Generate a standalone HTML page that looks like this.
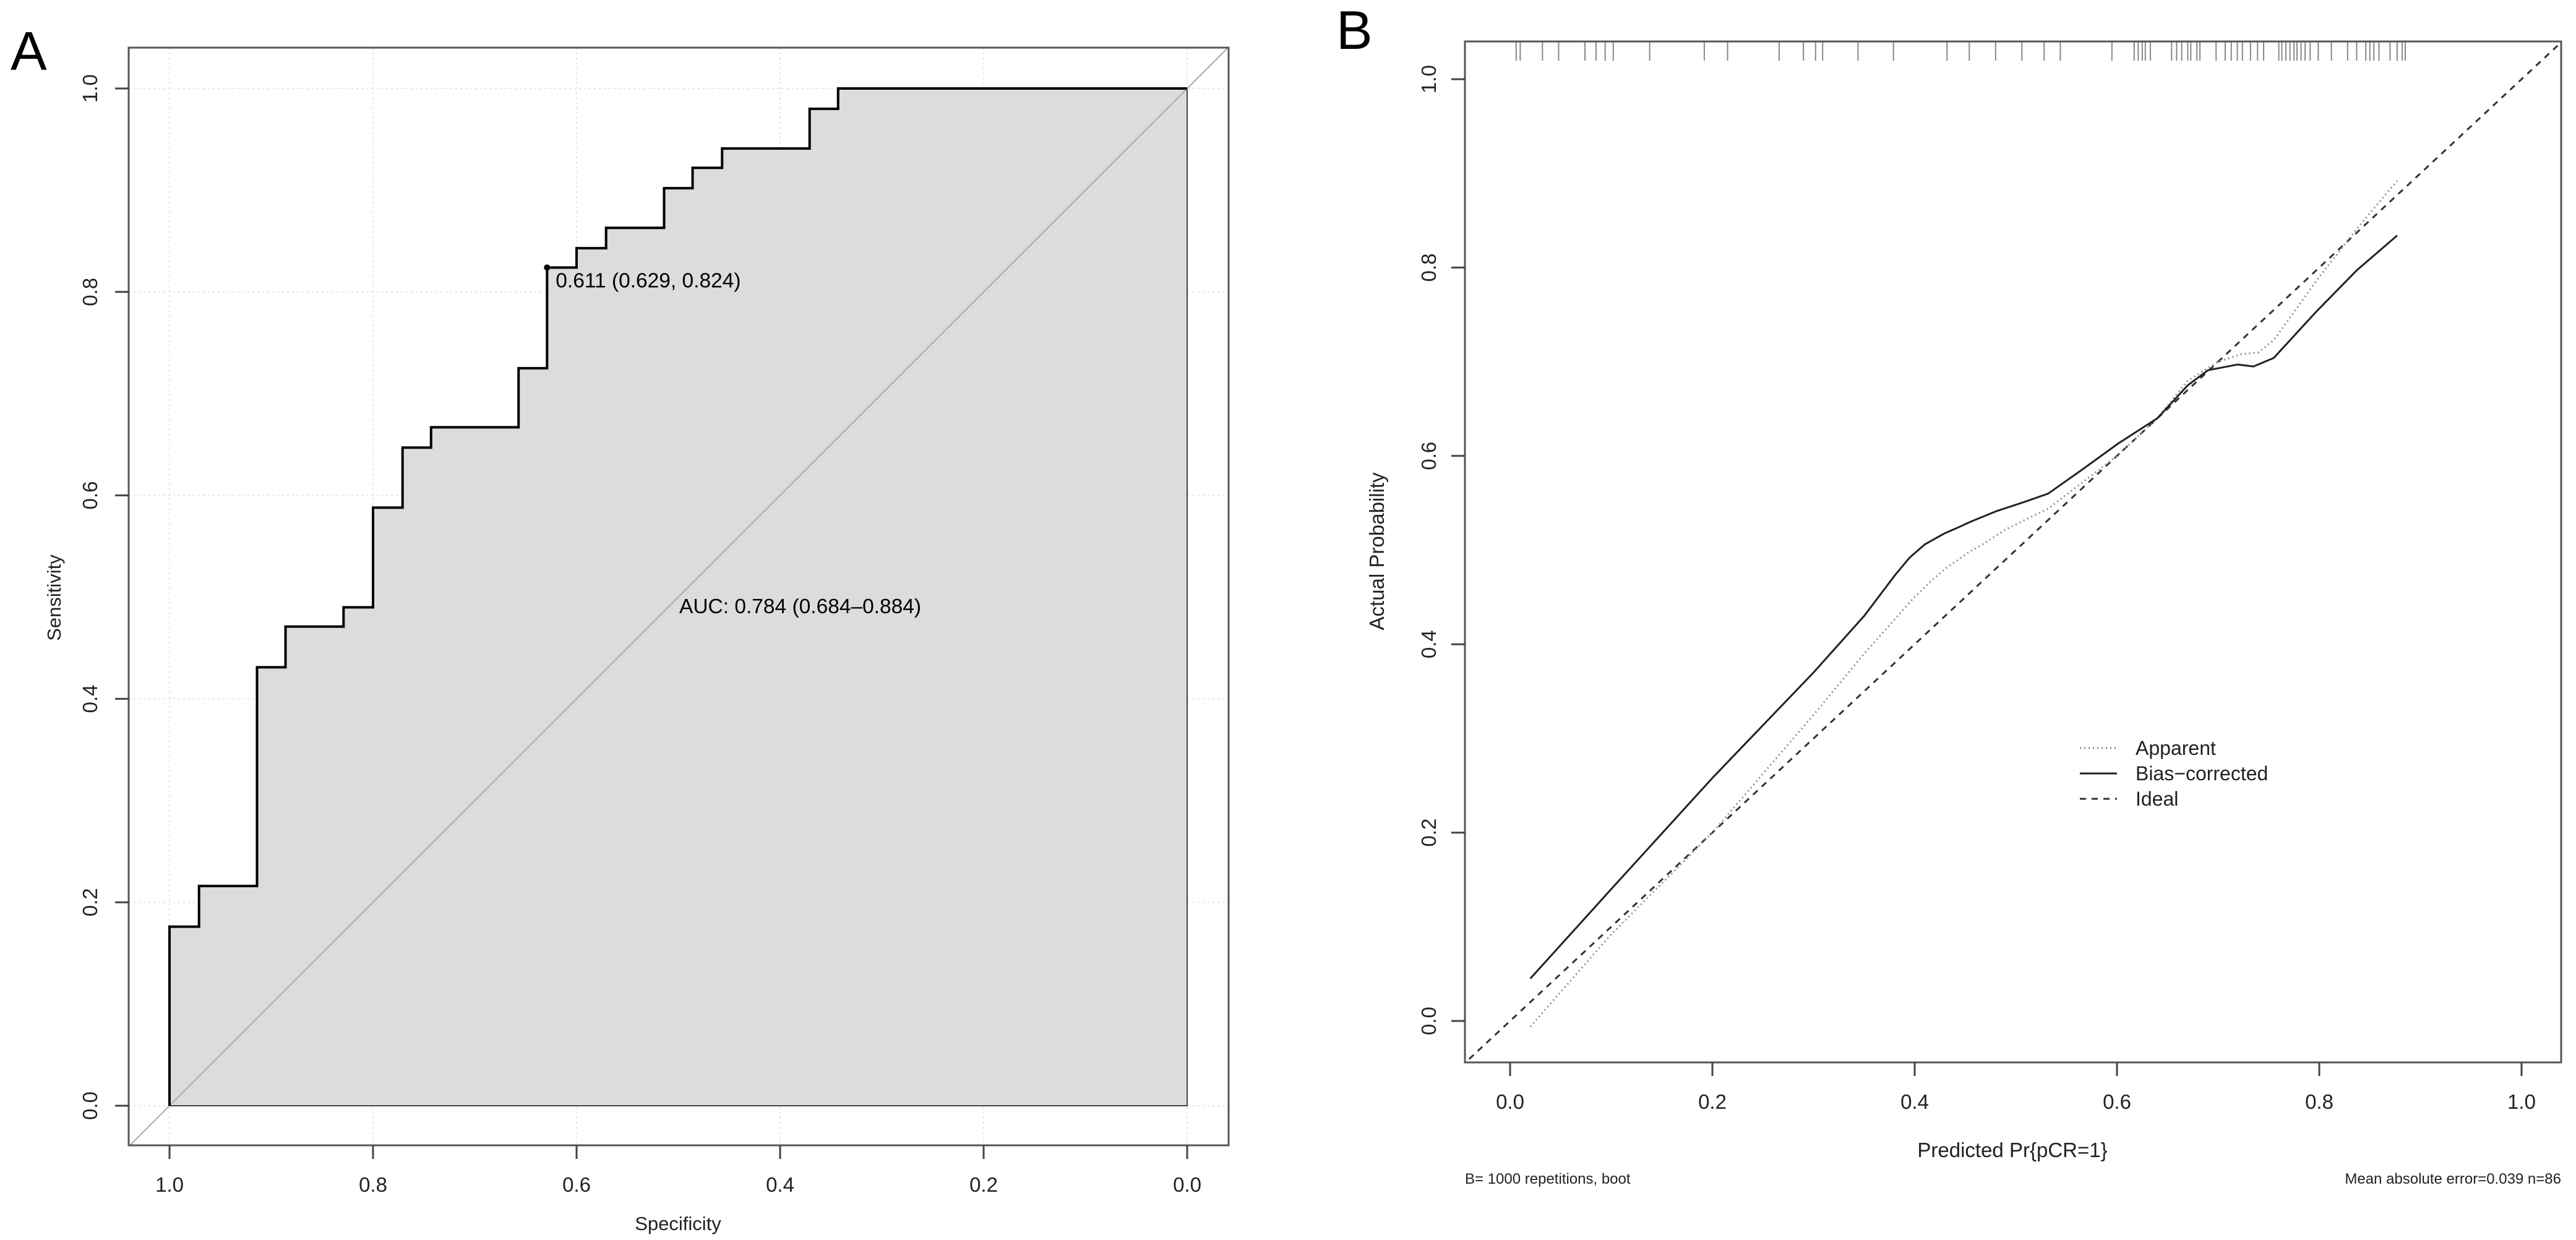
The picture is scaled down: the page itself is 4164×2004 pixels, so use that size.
<!DOCTYPE html>
<html><head><meta charset="utf-8"><style>
html,body{margin:0;padding:0;background:#fff;}
svg{display:block;font-family:"Liberation Sans",Arial,sans-serif;}
</style></head><body>
<svg id="fig" width="4164" height="2004" viewBox="0 0 4164 2004" xmlns="http://www.w3.org/2000/svg">
<defs>
<clipPath id="clipA"><rect x="208" y="77" width="1778" height="1774"/></clipPath>
<clipPath id="clipB"><rect x="2368" y="67" width="1772" height="1650"/></clipPath>
</defs>
<g id="panelA"></g>
<g id="panelB"></g>
</svg>
<script>
// ---- Panel A data (ROC) ----
const rocSpec = [1,1,0.971,0.971,0.914,0.914,0.886,0.886,0.829,0.829,0.8,0.8,0.771,0.771,0.743,0.743,0.657,0.657,0.629,0.629,0.6,0.6,0.571,0.571,0.514,0.514,0.486,0.486,0.457,0.457,0.371,0.371,0.343,0.343,0];
const rocSens = [0,0.176,0.176,0.216,0.216,0.431,0.431,0.471,0.471,0.490,0.490,0.588,0.588,0.647,0.647,0.667,0.667,0.725,0.725,0.824,0.824,0.843,0.843,0.863,0.863,0.902,0.902,0.922,0.922,0.941,0.941,0.980,0.980,1,1];
const rocTicks = [0,0.2,0.4,0.6,0.8,1.0];
const rocTickLabels = ["0.0","0.2","0.4","0.6","0.8","1.0"];
const bestSpec = 0.629, bestSens = 0.824;
const bestLabel = "0.611 (0.629, 0.824)";
const aucLabel = "AUC: 0.784 (0.684\u20130.884)";

// ---- Panel B data (calibration) ----
const calTicks = [0,0.2,0.4,0.6,0.8,1.0];
const calTickLabels = ["0.0","0.2","0.4","0.6","0.8","1.0"];
const biasX = [0.02,0.1,0.2,0.3,0.35,0.381,0.395,0.41,0.43,0.445,0.455,0.48,0.511,0.532,0.565,0.601,0.64,0.67,0.69,0.719,0.735,0.755,0.796,0.837,0.877];
const biasY = [0.045,0.14,0.258,0.37,0.43,0.474,0.492,0.506,0.518,0.525,0.53,0.541,0.552,0.56,0.585,0.613,0.64,0.675,0.691,0.697,0.695,0.704,0.752,0.797,0.834];
const appX = [0.02,0.1,0.2,0.3,0.35,0.398,0.415,0.43,0.454,0.47,0.49,0.532,0.6,0.64,0.67,0.7,0.723,0.74,0.755,0.8,0.84,0.877];
const appY = [-0.006,0.092,0.2,0.325,0.39,0.448,0.466,0.48,0.498,0.508,0.522,0.544,0.6,0.64,0.68,0.70,0.708,0.71,0.723,0.79,0.845,0.892];
const rugX = [.006,.010,.032,.048,.074,.085,.094,.102,.138,.192,.215,.266,.290,.302,.309,.344,.379,.432,.454,.480,.506,.528,.544,.595,.617,.621,.625,.628,.633,.654,.659,.664,.670,.673,.679,.682,.698,.707,.713,.719,.724,.732,.739,.745,.760,.763,.767,.771,.775,.778,.782,.786,.791,.799,.812,.828,.837,.846,.850,.854,.859,.870,.877,.882,.885];

const NS="http://www.w3.org/2000/svg";
function mk(parent,tag,attrs,text){const e=document.createElementNS(NS,tag);for(const k in attrs)e.setAttribute(k,attrs[k]);if(text!==undefined)e.textContent=text;parent.appendChild(e);return e;}

// ===== Panel A =====
const A=document.getElementById('panelA');
const ax=v=>1919-v*1645, ay=v=>1787-v*1644;
let t=mk(A,'text',{x:17,y:113,'font-size':88});


t.textContent='A';
rocTicks.forEach(v=>{
  let g=mk(A,'line',{x1:ax(v),x2:ax(v),y1:77,y2:1851,stroke:'#e4e4e4','stroke-width':2,'stroke-dasharray':'3 5'});
  
  
  let h=mk(A,'line',{x1:208,x2:1986,y1:ay(v),y2:ay(v),stroke:'#e4e4e4','stroke-width':2,'stroke-dasharray':'3 5'});
  
  
});
let pts=rocSpec.map((s,i)=>ax(s)+','+ay(rocSens[i])).join(' ')+' '+ax(0)+','+ay(0);
let poly=mk(A,'polygon',{points:pts,fill:'#dcdcdc',stroke:'#444','stroke-width':2});


let dg=mk(A,'line',{x1:ax(1.04),y1:ay(-0.04),x2:ax(-0.04),y2:ay(1.04),stroke:'#aaa','stroke-width':2,'clip-path':'url(#clipA)'});


let rc=mk(A,'polyline',{points:rocSpec.map((s,i)=>ax(s)+','+ay(rocSens[i])).join(' '),fill:'none',stroke:'#000','stroke-width':4});


let bp=mk(A,'circle',{cx:ax(bestSpec),cy:ay(bestSens),r:5,fill:'#000'});


let bl=mk(A,'text',{x:ax(bestSpec)+14,y:ay(bestSens)+32,'font-size':33.5},bestLabel);


let al=mk(A,'text',{x:1098,y:991,'font-size':33.5},aucLabel);


let bx=mk(A,'rect',{x:208,y:77,width:1778,height:1774,fill:'none',stroke:'#555','stroke-width':3});


rocTicks.forEach((v,i)=>{
  let tk=mk(A,'line',{x1:ax(v),x2:ax(v),y1:1851,y2:1873,stroke:'#444','stroke-width':3});
  
  
  let tl=mk(A,'text',{x:ax(v),y:1926,'font-size':33,'text-anchor':'middle',fill:'#222'},rocTickLabels[i]);
  
  
  let yk=mk(A,'line',{x1:186,x2:208,y1:ay(v),y2:ay(v),stroke:'#444','stroke-width':3});
  
  
  let yl=mk(A,'text',{x:0,y:0,'font-size':33,'text-anchor':'middle',fill:'#222',transform:'translate(157,'+ay(v)+') rotate(-90)'},rocTickLabels[i]);
  
  
});
let xt=mk(A,'text',{x:1096,y:1988,'font-size':31,'text-anchor':'middle',fill:'#222'},'Specificity');


let yt=mk(A,'text',{x:0,y:0,'font-size':31,'text-anchor':'middle',fill:'#222',transform:'translate(98,966) rotate(-90)'},'Sensitivity');



// ===== Panel B =====
const B=document.getElementById('panelB');
const bxs=v=>2441+v*1635, bys=v=>1650-v*1522;
let tb=mk(B,'text',{x:2160,y:79,'font-size':88});


tb.textContent='B';
let il=mk(B,'line',{x1:bxs(-0.1),y1:bys(-0.1),x2:bxs(1.2),y2:bys(1.2),stroke:'#333','stroke-width':3,'stroke-dasharray':'10 9','clip-path':'url(#clipB)'});


let ap=mk(B,'polyline',{points:appX.map((x,i)=>bxs(x)+','+bys(appY[i])).join(' '),fill:'none',stroke:'#888','stroke-width':3,'stroke-dasharray':'2 5'});


let bc=mk(B,'polyline',{points:biasX.map((x,i)=>bxs(x)+','+bys(biasY[i])).join(' '),fill:'none',stroke:'#222','stroke-width':3,'stroke-linejoin':'round'});


rugX.forEach(v=>{
  let r=mk(B,'line',{x1:bxs(v),x2:bxs(v),y1:67,y2:98,stroke:'#888','stroke-width':2});
  
  
});
let fb=mk(B,'rect',{x:2368,y:67,width:1772,height:1650,fill:'none',stroke:'#555','stroke-width':3});


calTicks.forEach((v,i)=>{
  let tk=mk(B,'line',{x1:bxs(v),x2:bxs(v),y1:1717,y2:1739,stroke:'#444','stroke-width':3});
  
  
  let tl=mk(B,'text',{x:bxs(v),y:1792,'font-size':33,'text-anchor':'middle',fill:'#222'},calTickLabels[i]);
  
  
  let yk=mk(B,'line',{x1:2346,x2:2368,y1:bys(v),y2:bys(v),stroke:'#444','stroke-width':3});
  
  
  let yl=mk(B,'text',{x:0,y:0,'font-size':33,'text-anchor':'middle',fill:'#222',transform:'translate(2321,'+bys(v)+') rotate(-90)'},calTickLabels[i]);
  
  
});
let bxt=mk(B,'text',{x:3253,y:1870,'font-size':33,'text-anchor':'middle',fill:'#222'},'Predicted Pr{pCR=1}');


let byt=mk(B,'text',{x:0,y:0,'font-size':33,'text-anchor':'middle',fill:'#222',transform:'translate(2237,891) rotate(-90)'},'Actual Probability');


let s1=mk(B,'text',{x:2368,y:1913,'font-size':24,fill:'#222'},'B= 1000 repetitions, boot');


let s2=mk(B,'text',{x:4140,y:1913,'font-size':24,'text-anchor':'end',fill:'#222'},'Mean absolute error=0.039 n=86');


const legNames=['Apparent','Bias\u2212corrected','Ideal'];
const legY=[1209,1250,1291];
const legStyle=[{stroke:'#888','stroke-dasharray':'2 5'},{stroke:'#222'},{stroke:'#333','stroke-dasharray':'10 9'}];
legNames.forEach((n,i)=>{
  let a=Object.assign({x1:3362,x2:3422,y1:legY[i],y2:legY[i],'stroke-width':3},legStyle[i]);
  let l=mk(B,'line',a);
  
  
  let lt=mk(B,'text',{x:3452,y:legY[i]+11,'font-size':32,fill:'#222'},n);
  
  
});
</script>
</body></html>
